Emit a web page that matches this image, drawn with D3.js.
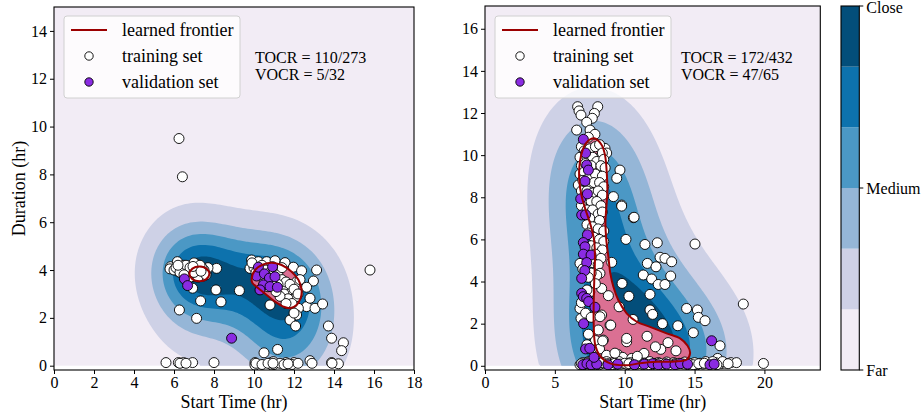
<!DOCTYPE html>
<html><head><meta charset="utf-8">
<script src="https://cdn.jsdelivr.net/npm/d3@7"></script>
<style>
body{margin:0;background:#fff}
svg{display:block}
text{font-family:"Liberation Serif","Times New Roman",serif;fill:#000}
</style>
</head><body>
<svg id="chart" width="924" height="419"></svg>
<script>
// ---------------- DATA ----------------
const leftXTicks = [0,2,4,6,8,10,12,14,16,18];
const leftYTicks = [0,2,4,6,8,10,12,14];
const rightXTicks = [0,5,10,15,20];
const rightYTicks = [0,2,4,6,8,10,12,14,16];
const levelLabels = ["Far","Medium","Close"];
const legendLabels = ["learned frontier","training set","validation set"];
const leftStats = ["TOCR = 110/273","VOCR = 5/32"];
const rightStats = ["TOCR = 172/432","VOCR = 47/65"];
const xLabel = "Start Time (hr)";
const yLabel = "Duration (hr)";

const leftTrain = [
 [6.25,9.5],[6.42,7.9],[15.8,4.0],
 [5.83,4.14],[6.17,4.35],[5.8,4.05],[6.22,3.93],[6.47,4.0],[6.63,4.14],[6.88,4.21],[7.1,4.26],[7.3,4.07],[7.25,3.84],[7.47,3.75],[7.05,3.72],[8.13,4.07],[6.93,3.24],[6.27,2.33],[7.13,1.98],[7.33,2.71],[8.35,2.67],[9.27,3.14],[8.1,3.17],
 [6.0,4.0],[6.3,4.1],[6.6,3.9],[6.9,4.0],[7.2,4.1],[7.4,3.9],[7.6,3.9],[6.8,3.7],[7.0,4.3],[7.3,3.8],[6.5,4.2],[7.7,4.1],
 [6.1,4.1],[6.4,4.0],[6.7,4.0],[7.0,4.1],[7.2,3.9],[7.5,4.0],[6.6,4.2],[6.9,3.9],[7.1,4.0],[7.4,4.1],[6.3,3.9],[6.8,4.1],[7.2,3.7],[7.6,3.8],[6.5,3.8],[7.0,3.9],[7.3,4.2],[6.2,4.2],[6.95,4.15],[7.35,3.95],
 [9.88,4.42],[9.97,4.21],[9.8,4.07],[10.22,4.35],[10.63,4.35],[11.05,4.39],[11.55,4.31],[11.97,4.12],[12.38,3.97],[13.13,4.0],[12.97,3.54],[12.63,3.28],[12.13,3.51],[11.8,3.17],[11.47,3.31],[11.55,2.82],[12.13,2.89],[10.8,2.54],[12.63,2.47],[13.05,2.4],[13.43,2.58],[12.8,2.82],[12.22,2.4],[12.13,2.12],[11.8,1.91],[12.08,1.66],[13.72,1.66],[13.88,1.15],[14.47,0.96],[14.38,0.63],
 [10.0,4.1],[10.2,4.0],[10.4,4.2],[10.6,4.0],[10.8,3.9],[11.0,4.0],[11.2,3.8],[11.4,3.6],[11.6,3.5],[11.8,3.4],[11.2,3.4],[11.5,3.0],[11.7,2.8],[11.9,2.6],[11.3,2.9],[10.5,3.6],[10.9,3.5],[11.1,3.1],[10.7,3.3],[12.0,3.2],[12.2,3.0],[11.4,4.1],[10.3,3.8],[10.1,3.9],[9.9,4.3],[12.3,3.6],[12.0,2.2],[11.6,2.6],
 [5.6,0.13],[6.22,0.13],[6.47,0.13],[6.93,0.13],[8.0,0.13],[10.05,0.13],[10.05,0.02],[10.5,0.54],[11.18,0.68],[10.85,0.13],[10.97,0.17],[10.9,0.02],[11.6,0.13],[12.0,0.13],[11.8,0.0],[12.8,0.21],[13.88,0.13],[14.22,0.08],
 [10.1,0.1],[10.4,0.05],[10.7,0.1],[11.0,0.05],[11.3,0.1],[11.5,0.05],[11.9,0.05],[12.2,0.1],[10.95,0.1],[11.7,0.08],[6.3,0.1],[6.6,0.1],[12.9,0.1],[13.9,0.1]
];
const leftVal = [
 [6.52,3.63],[6.68,3.35],[8.88,1.15],
 [10.13,3.75],[10.22,4.12],[10.52,3.84],[10.77,3.66],[11.05,3.72],[10.47,3.38],[10.8,3.31],[11.17,3.28],[10.3,3.17],[10.93,4.14]
];
const leftFrontierA = [[7.77,3.84],[7.62,4.06],[7.27,4.15],[6.92,4.06],[6.77,3.84],[6.92,3.62],[7.27,3.53],[7.62,3.62]];
const leftFrontierB = [[9.88,3.59],[10.05,4.0],[10.47,4.24],[10.88,4.31],[11.38,4.21],[11.88,3.93],[12.22,3.59],[12.38,3.17],[12.33,2.82],[12.13,2.54],[11.8,2.4],[11.47,2.47],[11.05,2.68],[10.63,2.96],[10.22,3.24],[9.93,3.45]];

const rightTrain = [
 [6.63,12.3],[6.73,12.1],[6.87,11.9],[8.07,12.3],[7.83,11.98],[7.68,11.75],[7.28,11.56],[6.56,11.19],[7.52,11.19],[7.87,10.99],[7.4,10.85],[8.59,10.32],[8.71,10.1],[9.66,9.29],[9.43,8.9],[9.19,8.03],[9.78,7.63],[10.62,7.03],[8.11,9.85],[8.23,9.21],[6.68,8.58],[7.87,7.31],[7.87,7.0],
 [6.9,10.4],[7.1,10.2],[7.5,10.3],[7.9,10.4],[8.2,10.5],[8.4,10.1],[6.8,9.9],[7.3,9.9],[7.7,9.9],[8.0,9.7],[8.5,9.8],[6.9,9.5],[7.2,9.6],[7.6,9.5],[8.3,9.5],[8.6,9.4],[6.8,9.1],[7.1,9.2],[7.5,9.0],[7.9,9.1],[8.4,9.0],[7.0,8.8],[7.4,8.6],[7.8,8.7],[8.2,8.7],[8.5,8.5],[6.9,8.3],[7.3,8.3],[7.7,8.2],[8.1,8.3],[8.4,8.1],[7.1,7.9],[7.6,7.8],[8.0,7.8],[8.3,7.6],[6.9,7.6],[7.3,7.4],[7.7,7.4],[8.1,7.2],[8.4,7.3],[7.5,7.0],[8.2,6.9],[7.3,6.7],[7.7,6.6],[8.1,6.5],[8.5,6.4],
 [7.4,6.3],[7.8,6.1],[8.2,6.0],[8.5,5.9],[7.6,5.7],[8.0,5.6],[8.4,5.5],[7.9,5.3],[8.3,5.1],[7.7,4.9],[8.1,4.8],[6.8,4.86],[8.23,4.39],[8.35,3.67],[8.0,4.3],[7.6,4.4],[7.9,3.9],[7.5,3.5],[6.8,2.72],[6.87,2.25],[7.2,2.5],[7.6,2.3],[8.35,2.41],[8.95,1.93],[8.11,1.7],[8.47,1.22],[7.9,1.2],[7.4,1.5],[7.8,0.7],[8.2,0.8],[8.7,0.5],[7.3,1.0],[6.9,3.0],[7.3,3.6],[7.0,4.6],[7.4,4.2],
 [9.78,7.58],[10.67,7.05],[10.09,6.0],[11.45,5.76],[12.33,5.84],[15.03,5.78],[9.07,4.91],[11.62,4.86],[12.53,5.15],[12.88,5.1],[13.36,4.94],[12.24,4.7],[11.33,4.31],[11.93,4.12],[12.4,3.86],[12.88,3.86],[13.29,4.26],[9.81,3.91],[11.81,3.39],[8.83,3.33],[11.81,2.65],[12.0,2.44],[14.43,2.72],[15.2,2.65],[15.27,2.3],[15.75,2.14],[18.49,2.93],[9.0,1.93],[10.14,1.14],[10.14,1.3],[12.58,0.78],[13.67,0.71],[11.38,0.59],[14.91,1.57],[16.82,0.95],[16.65,0.35],[19.93,0.11],[9.5,0.54],[9.86,0.4],[10.5,0.35],[8.42,1.18],[8.23,2.33],
 [6.8,0.05],[7.2,0.1],[7.5,0.05],[7.8,0.12],[8.2,0.05],[8.5,0.1],[9.0,0.08],[9.4,0.05],[9.8,0.1],[10.2,0.05],[10.6,0.12],[10.9,0.08],[11.3,0.05],[11.6,0.1],[12.0,0.05],[12.2,0.12],[12.6,0.08],[12.8,0.05],[13.3,0.1],[13.8,0.08],[14.1,0.12],[14.5,0.05],[14.8,0.1],[15.2,0.05],[15.6,0.08],[16.0,0.12],[16.9,0.1],[17.2,0.12],[17.6,0.15],[18.0,0.15],[15.4,0.12],
 [7.0,0.15],[7.4,0.2],[8.0,0.15],[8.7,0.2],[9.2,0.15],[9.6,0.2],[10.4,0.15],[10.8,0.2],[11.1,0.15],[11.8,0.2],[12.4,0.15],[13.0,0.18],[13.5,0.15],[14.3,0.18],[15.0,0.15],[15.8,0.2],[16.5,0.15],[17.0,0.2],
 [6.9,0.1],[7.1,0.05],[7.3,0.15],[7.6,0.1],[7.9,0.05],[8.1,0.1],[8.4,0.15],[8.8,0.1],[9.1,0.05],[9.3,0.12],[9.7,0.08],[10.0,0.12],[10.3,0.1],[10.7,0.05],[11.0,0.1],[11.4,0.12],[11.7,0.05],[12.1,0.1],[12.5,0.12],[12.9,0.1],[13.2,0.05],[13.6,0.1],[13.9,0.12],[14.2,0.08],[14.6,0.12],[14.9,0.05],[15.3,0.1],[15.7,0.12],[16.2,0.1],[16.6,0.05],[17.4,0.1],[16.3,0.2],
 [9.3,0.6],[10.9,0.45],[12.2,0.9],[13.1,1.1],[11.6,1.4],[10.6,2.2],[9.6,2.8],[10.3,3.3],[12.7,2.0],[13.8,1.9]
];
const rightVal = [
 [7.04,10.75],[7.2,10.1],[7.28,9.53],[7.4,9.29],[7.16,8.77],[6.85,7.93],[7.33,8.16],[6.92,7.16],[7.2,7.17],[7.33,6.22],[7.04,5.85],[7.16,5.65],[7.04,5.3],[7.59,5.26],[7.28,4.9],[7.14,4.52],[6.92,4.15],[6.92,3.44],[7.04,3.28],[7.28,3.2],[7.42,3.05],[7.87,2.78],[7.06,2.0],[7.2,0.8],[7.5,0.83],[16.22,1.19],
 [7.0,0.05],[7.3,0.1],[7.6,0.05],[8.0,0.08],[8.8,0.05],[9.5,0.08],[10.7,0.05],[11.4,0.08],[12.0,0.1],[12.4,0.05],[13.0,0.08],[13.6,0.05],[14.0,0.1],[14.5,0.08],[16.1,0.05],[16.4,0.08],[7.8,0.4]
];
const rightFrontier = [[7.83,10.8],[8.35,10.48],[8.59,10.0],[8.71,9.21],[8.76,8.26],[8.68,7.47],[8.62,6.8],[8.68,6.0],[8.83,5.18],[8.97,4.39],[9.19,3.75],[9.54,3.12],[10.14,2.49],[10.86,2.09],[11.81,1.85],[13.0,1.54],[13.96,1.3],[14.5,0.95],[14.68,0.6],[14.45,0.3],[13.6,0.2],[12.3,0.19],[11.1,0.12],[10.2,0.03],[9.0,0.1],[8.25,0.45],[7.9,0.95],[7.78,2.0],[7.8,3.6],[7.87,5.18],[7.8,6.0],[7.55,6.7],[7.2,7.4],[6.9,8.1],[6.75,8.8],[6.75,9.4],[6.88,10.0],[7.12,10.45],[7.45,10.72]];

// ---------------- STYLE ----------------
const bandColors = [1,3,5,7,9,11].map(k => d3.interpolatePuBu(k/12));
const FONT_TICK = 16, FONT_LABEL = 18;
const svg = d3.select("#chart");

function kdeGrid(pts, gx1, gy1, nx, ny, hx, hy) {
  const n = pts.length;
  const vals = new Float64Array(nx*ny);
  for (let j = 0; j < ny; j++) {
    const y = (j+0.5)*gy1/ny;
    for (let i = 0; i < nx; i++) {
      const x = (i+0.5)*gx1/nx;
      let s = 0;
      for (let k = 0; k < n; k++) {
        const dx = (x - pts[k][0])/hx, dy = (y - pts[k][1])/hy;
        s += Math.exp(-0.5*(dx*dx + dy*dy));
      }
      vals[j*nx+i] = s;
    }
  }
  return vals;
}
function isoLevels(vals, props) {
  const sorted = Array.from(vals).sort((a,b) => b-a);
  const total = d3.sum(sorted);
  const cum = []; let c = 0;
  for (const v of sorted) { c += v; cum.push(c/total); }
  return props.map(q => { const idx = d3.bisectLeft(cum, 1-q); return sorted[Math.min(idx, sorted.length-1)]; });
}

function drawPanel(cfg) {
  const x = d3.scaleLinear(cfg.xDomain, cfg.xRange);
  const y = d3.scaleLinear(cfg.yDomain, cfg.yRange);
  const g = svg.append("g");
  const clipId = "clip" + cfg.id;
  g.append("clipPath").attr("id", clipId).append("rect")
    .attr("x", cfg.xRange[0]).attr("y", cfg.yRange[1])
    .attr("width", cfg.xRange[1]-cfg.xRange[0]).attr("height", cfg.yRange[0]-cfg.yRange[1]);
  const pg = g.append("g").attr("clip-path", `url(#${clipId})`);
  const gx1 = cfg.xDomain[1], gy1 = cfg.yDomain[1];
  pg.append("rect").attr("x", x(0)).attr("y", y(gy1))
    .attr("width", x(gx1)-x(0)).attr("height", y(0)-y(gy1)).attr("fill", bandColors[0]);
  const nx = cfg.nx, ny = cfg.ny;
  const vals = kdeGrid(cfg.train, gx1, gy1, nx, ny, cfg.hx, cfg.hy);
  const th = isoLevels(vals, [1/6,2/6,3/6,4/6,5/6]);
  const conts = d3.contours().size([nx, ny]).thresholds(th)(vals);
  const proj = d3.geoTransform({point(px, py) { this.stream.point(x(px*gx1/nx), y(py*gy1/ny)); }});
  const path = d3.geoPath(proj);
  conts.forEach((c, i) => pg.append("path").attr("d", path(c)).attr("fill", bandColors[i+1]));

  const line = d3.line().x(d => x(d[0])).y(d => y(d[1])).curve(d3.curveCatmullRomClosed.alpha(0.5));
  cfg.frontiers.forEach(f => pg.append("path").attr("d", line(f)).attr("fill", "#db7093"));
  pg.selectAll(null).data(cfg.train).join("circle")
    .attr("cx", d => x(d[0])).attr("cy", d => y(d[1])).attr("r", 5)
    .attr("fill", "#fff").attr("stroke", "#000").attr("stroke-width", 0.9);
  pg.selectAll(null).data(cfg.val).join("circle")
    .attr("cx", d => x(d[0])).attr("cy", d => y(d[1])).attr("r", 5)
    .attr("fill", "#8a2be2").attr("stroke", "#000").attr("stroke-width", 0.9);
  cfg.frontiers.forEach(f => pg.append("path").attr("d", line(f)).attr("fill", "none").attr("stroke", "#9b0000").attr("stroke-width", 2));

  const ax = g.append("g").attr("transform", `translate(0,${cfg.yRange[0]})`)
    .call(d3.axisBottom(x).tickValues(cfg.xTicks).tickSize(4).tickPadding(3));
  const ay = g.append("g").attr("transform", `translate(${cfg.xRange[0]},0)`)
    .call(d3.axisLeft(y).tickValues(cfg.yTicks).tickSize(4).tickPadding(3));
  [ax, ay].forEach(a => {
    a.select(".domain").remove();
    a.selectAll("text").style("font-size", FONT_TICK + "px").style("font-family", '"Liberation Serif",serif');
    a.selectAll("line").attr("stroke", "#000");
  });
  g.append("rect").attr("x", cfg.xRange[0]).attr("y", cfg.yRange[1])
    .attr("width", cfg.xRange[1]-cfg.xRange[0]).attr("height", cfg.yRange[0]-cfg.yRange[1])
    .attr("fill", "none").attr("stroke", "#000").attr("stroke-width", 1.1);

  g.append("text").attr("x", (cfg.xRange[0]+cfg.xRange[1])/2).attr("y", 408)
    .attr("text-anchor", "middle").style("font-size", FONT_LABEL + "px").text(xLabel);
  if (cfg.showYLabel) {
    g.append("text").attr("transform", `translate(25,${(cfg.yRange[0]+cfg.yRange[1])/2}) rotate(-90)`)
      .attr("text-anchor", "middle").style("font-size", FONT_LABEL + "px").text(yLabel);
  }

  const lx = cfg.legendX, ly = 16;
  const lg = g.append("g");
  lg.append("rect").attr("x", lx).attr("y", ly).attr("width", 176).attr("height", 82).attr("rx", 3)
    .attr("fill", "#fff").attr("fill-opacity", 0.8).attr("stroke", "#d0d0d0").attr("stroke-width", 1);
  const rows = [30, 56, 82];
  lg.append("line").attr("x1", lx+7).attr("x2", lx+43).attr("y1", rows[0]).attr("y2", rows[0])
    .attr("stroke", "#9b0000").attr("stroke-width", 2);
  lg.append("circle").attr("cx", lx+25).attr("cy", rows[1]).attr("r", 4.2).attr("fill", "#fff").attr("stroke", "#000").attr("stroke-width", 0.9);
  lg.append("circle").attr("cx", lx+25).attr("cy", rows[2]).attr("r", 4.2).attr("fill", "#8a2be2").attr("stroke", "#000").attr("stroke-width", 0.9);
  legendLabels.forEach((t, i) => lg.append("text").attr("x", lx+58).attr("y", rows[i]+6)
    .style("font-size", FONT_LABEL + "px").text(t));

  cfg.stats.forEach((t, i) => g.append("text").attr("x", cfg.statsX).attr("y", 63 + i*17)
    .style("font-size", FONT_TICK + "px").text(t));
}

drawPanel({id: "L", xDomain: [0,18], xRange: [54,414], yDomain: [-0.18,15], yRange: [370,7],
  xTicks: leftXTicks, yTicks: leftYTicks, train: leftTrain, val: leftVal,
  frontiers: [leftFrontierA, leftFrontierB], nx: 144, ny: 120, hx: 1.85, hy: 1.8,
  legendX: 64, statsX: 255, stats: leftStats, showYLabel: true});
drawPanel({id: "R", xDomain: [0,24], xRange: [485,820.3], yDomain: [-0.2,17.08], yRange: [370,6],
  xTicks: rightXTicks, yTicks: rightYTicks, train: rightTrain, val: rightVal,
  frontiers: [rightFrontier], nx: 160, ny: 120, hx: 3.3, hy: 2.7,
  legendX: 495, statsX: 681, stats: rightStats, showYLabel: false});

const cb = svg.append("g");
const cbX = 841, cbW = 18.3, cbTop = 6, cbBot = 370;
const cbY = d3.scaleLinear([0, bandColors.length], [cbBot, cbTop]);
bandColors.forEach((c, i) => cb.append("rect").attr("x", cbX).attr("y", cbY(i+1)).attr("width", cbW)
  .attr("height", cbY(i) - cbY(i+1)).attr("fill", c));
cb.append("rect").attr("x", cbX).attr("y", cbTop).attr("width", cbW).attr("height", cbBot-cbTop)
  .attr("fill", "none").attr("stroke", "#000").attr("stroke-width", 1.1);
const cbTicks = [0, bandColors.length/2, bandColors.length];
cbTicks.forEach((v, i) => {
  cb.append("line").attr("x1", cbX+cbW).attr("x2", cbX+cbW+4).attr("y1", cbY(v)).attr("y2", cbY(v)).attr("stroke", "#000");
  cb.append("text").attr("x", cbX+cbW+7).attr("y", cbY(v) + (i === 2 ? 7 : 6))
    .style("font-size", FONT_TICK + "px").text(levelLabels[i]);
});
</script>
</body></html>
